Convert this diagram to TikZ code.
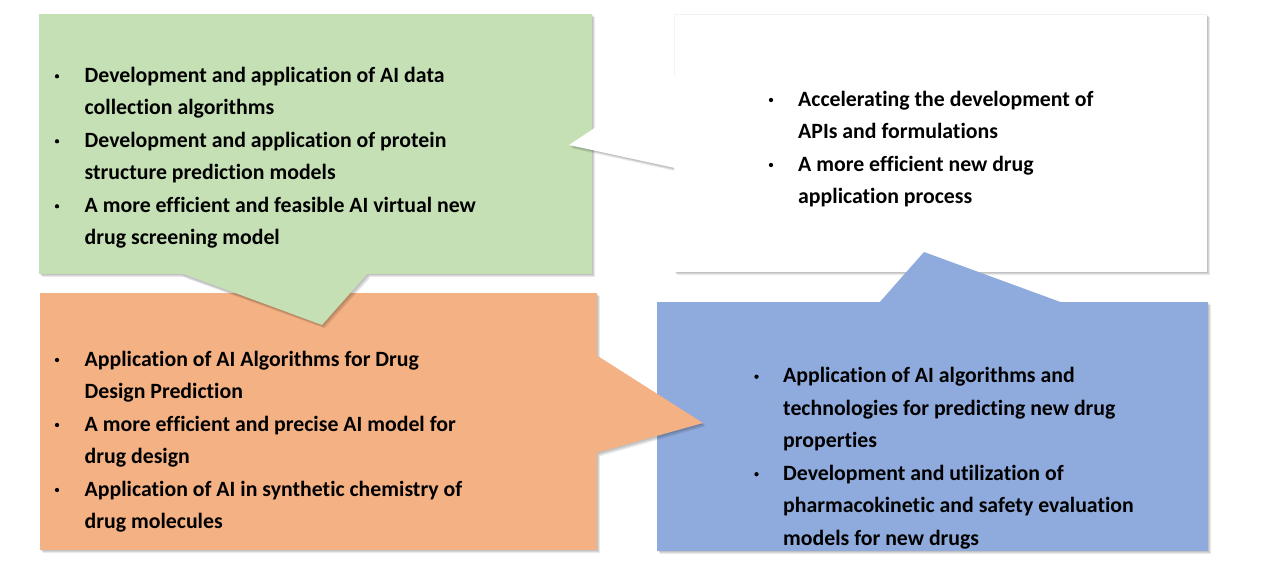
\documentclass[tikz,border=0pt]{standalone}
\usepackage{fontspec}
\setmainfont{Carlito}[Ligatures=NoCommon]
\definecolor{cgreen}{HTML}{C5E0B4}
\definecolor{corange}{HTML}{F4B183}
\definecolor{cblue}{HTML}{8FAADC}
\newcommand{\dropsh}[1]{\foreach \k in {1,2,3}{\fill[black,opacity=0.085,shift={(0.9*\k,1.1*\k)}] #1;}}
\tikzset{
  ln/.style={anchor=base west, inner sep=0pt, font=\bfseries\fontsize{21.8}{26}\selectfont, text=black},
  bul/.style={circle, fill=black, inner sep=0pt, minimum size=4.3pt},
}
\begin{document}
\begin{tikzpicture}[x=1pt,y=-1pt]
\useasboundingbox[fill=white] (0,0) rectangle (1267,565);
% box shadows
\dropsh{(39,14) rectangle (592,274)}
\dropsh{(674,14) rectangle (1207,272)}
\dropsh{(40,293) rectangle (597,550)}
\dropsh{(657,302) rectangle (1208,551)}
% boxes
\fill[cgreen] (39,14) rectangle (592,274);
\fill[white] (674,14) rectangle (1207,272);
\draw[black!5, line width=0.6pt] (674,14) -- (1207,14);
\draw[black!5, line width=0.6pt] (674,14) -- (674,75);
\fill[corange] (40,293) rectangle (597,550);
\fill[cblue] (657,302) rectangle (1208,551);
% pointers with shadows
\begin{scope}\clip (0,274) rectangle (1267,565);
\dropsh{(181,274) -- (322,325) -- (368,274) -- cycle}
\end{scope}
\fill[cgreen] (181,273) -- (322,325) -- (368,273) -- cycle;
\begin{scope}\clip (0,0) rectangle (674,565);
\dropsh{(674,75) -- (569,145) -- (674,168) -- cycle}
\end{scope}
\fill[white] (675,75) -- (569,145) -- (675,168) -- cycle;
\begin{scope}\clip (597,0) rectangle (1267,565);
\dropsh{(597,355) -- (703,423) -- (597,453) -- cycle}
\end{scope}
\fill[corange] (596,355) -- (703,423) -- (596,453) -- cycle;
\begin{scope}\clip (0,0) rectangle (1267,302);
\dropsh{(879,302) -- (924,252) -- (1063,302) -- cycle}
\end{scope}
\fill[cblue] (879,303) -- (924,252) -- (1063,303) -- cycle;
% green text
\node[bul] (gb1) at (57,76.3) {};
\node[ln] (g1) at (84.5,82.3) {Development and application of AI data};
\node[ln] (g2) at (84.5,114.8) {collection algorithms};
\node[bul] (gb2) at (57,141.3) {};
\node[ln] (g3) at (84.5,147.3) {Development and application of protein};
\node[ln] (g4) at (84.5,179.8) {structure prediction models};
\node[bul] (gb3) at (57,206.3) {};
\node[ln] (g5) at (84.5,212.3) {A more efficient and feasible AI virtual new};
\node[ln] (g6) at (84.5,244.8) {drug screening model};
% white text
\node[bul] (wb1) at (771,100) {};
\node[ln] (w1) at (798,106) {Accelerating the development of};
\node[ln] (w2) at (798,138.5) {APIs and formulations};
\node[bul] (wb2) at (771,165) {};
\node[ln] (w3) at (798,171) {A more efficient new drug};
\node[ln] (w4) at (798,203.5) {application process};
% orange text
\node[bul] (ob1) at (57,360) {};
\node[ln] (o1) at (84.5,366) {Application of AI Algorithms for Drug};
\node[ln] (o2) at (84.5,398.5) {Design Prediction};
\node[bul] (ob2) at (57,425) {};
\node[ln] (o3) at (84.5,431) {A more efficient and precise AI model for};
\node[ln] (o4) at (84.5,463.5) {drug design};
\node[bul] (ob3) at (57,490) {};
\node[ln] (o5) at (84.5,496) {Application of AI in synthetic chemistry of};
\node[ln] (o6) at (84.5,528.5) {drug molecules};
% blue text
\node[bul] (bb1) at (756.5,376.7) {};
\node[ln] (b1) at (783,382.7) {Application of AI algorithms and};
\node[ln] (b2) at (783,415.2) {technologies for predicting new drug};
\node[ln] (b3) at (783,447.7) {properties};
\node[bul] (bb2) at (756.5,474.2) {};
\node[ln] (b4) at (783,480.2) {Development and utilization of};
\node[ln] (b5) at (783,512.7) {pharmacokinetic and safety evaluation};
\node[ln] (b6) at (783,545.2) {models for new drugs};
\end{tikzpicture}
\end{document}
